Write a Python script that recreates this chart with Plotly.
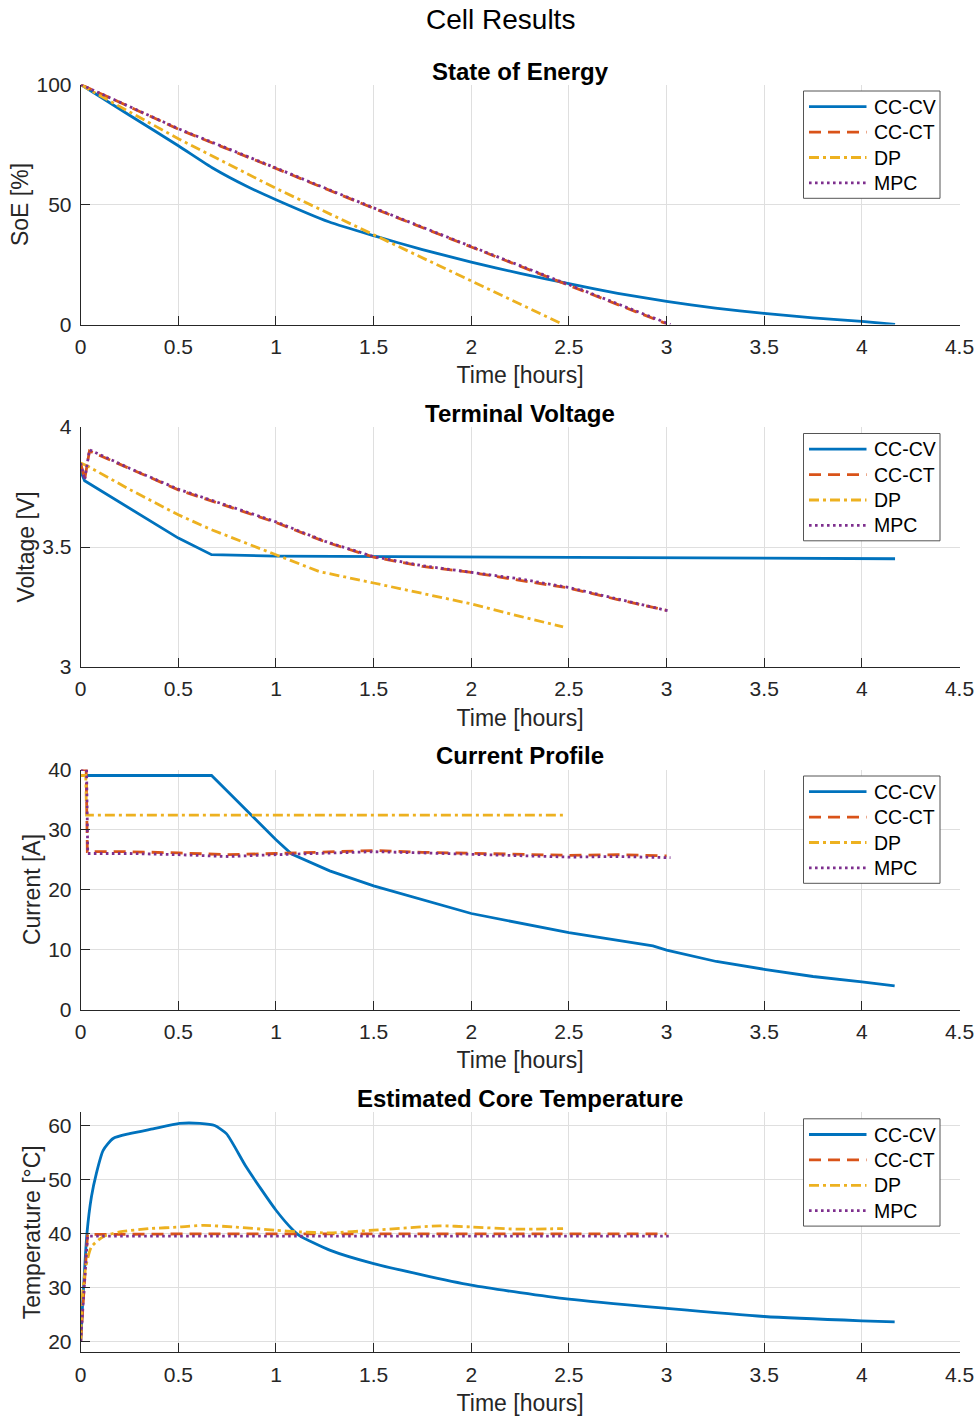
import plotly.graph_objects as go

# ---------------- data ----------------
SERIES = ["CC-CV", "CC-CT", "DP", "MPC"]
X_TICKS = [0, 0.5, 1, 1.5, 2, 2.5, 3, 3.5, 4, 4.5]
X_TICK_TEXT = ["0", "0.5", "1", "1.5", "2", "2.5", "3", "3.5", "4", "4.5"]

# State of Energy [%]
soe_t_cccv = [0, 0.25, 0.5, 0.68, 0.85, 1.0, 1.27, 1.5, 1.75, 2.0, 2.25, 2.5, 2.75, 3.0, 3.25, 3.5, 3.75, 4.0, 4.17]
soe_cccv = [100, 87.2, 74.5, 65.0, 57.6, 52.0, 42.8, 37.0, 31.2, 26.0, 21.3, 17.0, 13.0, 9.6, 6.8, 4.6, 2.8, 1.3, 0.0]
soe_t_ccct = [0, 0.5, 1.0, 1.5, 2.0, 2.5, 3.0]
soe_ccct = [100, 81.4, 65.0, 48.4, 32.3, 16.4, 0.3]
soe_t_dp = [0, 0.04, 0.5, 1.0, 1.5, 2.0, 2.47]
soe_dp = [100, 98.0, 77.4, 56.7, 37.4, 18.2, 0.0]
soe_t_mpc = [0, 0.5, 1.0, 1.5, 2.0, 2.5, 3.02]
soe_mpc = [100, 81.6, 65.2, 48.6, 32.5, 16.6, 0.0]

# Terminal Voltage [V]
v_t_cccv = [0, 0.02, 0.5, 0.67, 1.0, 1.5, 2.0, 2.5, 3.0, 3.5, 4.0, 4.17]
v_cccv = [3.815, 3.776, 3.537, 3.468, 3.462, 3.460, 3.459, 3.457, 3.455, 3.454, 3.452, 3.451]
v_t_ccct = [0, 0.02, 0.045, 0.25, 0.5, 0.75, 1.0, 1.25, 1.5, 1.75, 2.0, 2.25, 2.5, 2.75, 3.0]
v_ccct = [3.85, 3.78, 3.90, 3.826, 3.738, 3.670, 3.602, 3.522, 3.458, 3.419, 3.394, 3.361, 3.329, 3.281, 3.236]
v_t_dp = [0, 0.04, 0.25, 0.5, 0.67, 1.0, 1.12, 1.22, 1.5, 1.75, 2.0, 2.25, 2.47]
v_dp = [3.85, 3.835, 3.74, 3.634, 3.572, 3.468, 3.43, 3.398, 3.35, 3.308, 3.263, 3.211, 3.167]
v_t_mpc = [0, 0.02, 0.045, 0.25, 0.5, 0.75, 1.0, 1.25, 1.5, 1.75, 2.0, 2.25, 2.5, 2.75, 3.02]
v_mpc = [3.85, 3.78, 3.905, 3.828, 3.741, 3.673, 3.605, 3.524, 3.460, 3.422, 3.396, 3.367, 3.331, 3.284, 3.232]

# Current [A]
i_t_cccv = [0, 0.67, 0.75, 0.865, 1.0, 1.08, 1.275, 1.5, 2.0, 2.5, 2.657, 2.93, 3.0, 3.255, 3.5, 3.75, 4.0, 4.168]
i_cccv = [39, 39, 36.4, 32.6, 28.3, 25.9, 23.1, 20.6, 16.0, 12.8, 12.0, 10.6, 9.9, 8.0, 6.7, 5.5, 4.6, 3.95]
i_t_ccct = [0, 0.028, 0.034, 0.25, 0.5, 0.75, 1.0, 1.25, 1.5, 1.75, 2.0, 2.25, 2.5, 2.75, 3.0]
i_ccct = [40, 40, 26.3, 26.3, 26.1, 25.8, 26.0, 26.3, 26.5, 26.2, 26.0, 25.8, 25.7, 25.8, 25.6]
i_t_dp = [0, 0.026, 0.03, 2.47]
i_dp = [39, 39, 32.4, 32.4]
i_t_mpc = [0, 0.03, 0.036, 0.25, 0.5, 0.75, 1.0, 1.25, 1.5, 1.75, 2.0, 2.25, 2.5, 2.75, 3.02]
i_mpc = [40, 40, 26.0, 26.0, 25.8, 25.5, 25.8, 26.1, 26.3, 26.1, 25.9, 25.6, 25.4, 25.5, 25.3]

# Estimated Core Temperature [degC]
T_t_cccv = [0, 0.01, 0.032, 0.055, 0.08, 0.115, 0.166, 0.25, 0.37, 0.507, 0.61, 0.686, 0.746, 0.848, 1.0, 1.088,
            1.12, 1.275, 1.5, 2.0, 2.5, 3.0, 3.5, 4.0, 4.168]
T_cccv = [20, 27, 40, 46.8, 51.1, 55.4, 57.6, 58.5, 59.4, 60.4, 60.4, 60.0, 58.5, 52.3, 44.3, 40.6,
          39.6, 36.9, 34.4, 30.4, 27.8, 26.1, 24.6, 23.8, 23.6]
T_t_ccct = [0, 0.035, 0.5, 1.0, 1.5, 2.0, 2.5, 3.0]
T_ccct = [20, 39.8, 39.9, 39.9, 40.0, 39.9, 39.9, 39.9]
T_t_dp = [0, 0.01, 0.026, 0.055, 0.115, 0.2, 0.355, 0.51, 0.63, 0.78, 1.0, 1.12, 1.275, 1.5, 1.838, 2.0, 2.23, 2.47]
T_dp = [20, 28.9, 33.8, 37.5, 39.4, 40.3, 40.9, 41.2, 41.5, 41.2, 40.6, 40.3, 40.1, 40.6, 41.4, 41.2, 40.8, 40.9]
T_t_mpc = [0, 0.035, 0.5, 1.0, 1.5, 2.0, 2.5, 3.02]
T_mpc = [20, 39.5, 39.5, 39.5, 39.6, 39.5, 39.5, 39.5]

PANELS = [
    dict(title="State of Energy", ylabel="SoE [%]", yrange=[0, 100], yticks=[0, 50, 100],
         data=[(soe_t_cccv, soe_cccv), (soe_t_ccct, soe_ccct), (soe_t_dp, soe_dp), (soe_t_mpc, soe_mpc)],
         smooth=[True, False, False, False]),
    dict(title="Terminal Voltage", ylabel="Voltage [V]", yrange=[3, 4], yticks=[3, 3.5, 4],
         data=[(v_t_cccv, v_cccv), (v_t_ccct, v_ccct), (v_t_dp, v_dp), (v_t_mpc, v_mpc)],
         smooth=[False, False, False, False]),
    dict(title="Current Profile", ylabel="Current [A]", yrange=[0, 40], yticks=[0, 10, 20, 30, 40],
         data=[(i_t_cccv, i_cccv), (i_t_ccct, i_ccct), (i_t_dp, i_dp), (i_t_mpc, i_mpc)],
         smooth=[False, False, False, False]),
    dict(title="Estimated Core Temperature", ylabel="Temperature [°C]", yrange=[17.96, 62.46],
         yticks=[20, 30, 40, 50, 60],
         data=[(T_t_cccv, T_cccv), (T_t_ccct, T_ccct), (T_t_dp, T_dp), (T_t_mpc, T_mpc)],
         smooth=[True, False, True, False]),
]

# ---------------- styling ----------------
COLORS = ["#0072BD", "#D95319", "#EDB120", "#7E2F8E"]
DASHES = ["solid", "12px,7px", "10px,4px,3px,4px", "2.6px,3.4px"]
LW = 2.8
FONT = "Liberation Sans, Arial, Helvetica, sans-serif"
AX = "#262626"
GRID = "#dfdfdf"

W, H = 980, 1420
def px(x): return x / W
def py(y): return 1 - y / H

X0, X1 = 80.7, 959.5
TOPS = [84.5, 427.0, 769.5, 1112.3]
AH = 240.0

fig = go.Figure()
layout = dict(
    width=W, height=H, margin=dict(l=0, r=0, t=0, b=0, autoexpand=False),
    paper_bgcolor="white", plot_bgcolor="white", template="none",
    font=dict(family=FONT, color=AX), showlegend=False,
)
shapes, annotations = [], []

annotations.append(dict(text="Cell Results", x=px(500), y=py(20), xref="paper", yref="paper",
                        xanchor="center", yanchor="middle", showarrow=False,
                        font=dict(size=28, color="black", family=FONT)))

for k, p in enumerate(PANELS):
    n = "" if k == 0 else str(k + 1)
    top = TOPS[k]
    for j, (tt, vv) in enumerate(p["data"]):
        fig.add_trace(go.Scatter(x=tt, y=vv, mode="lines", name=SERIES[j],
                                 line=dict(color=COLORS[j], width=LW, dash=DASHES[j],
                                           shape="spline" if p["smooth"][j] else "linear",
                                           smoothing=0.6),
                                 xaxis="x" + n, yaxis="y" + n, hoverinfo="skip"))
    layout["xaxis" + n] = dict(
        domain=[px(X0), px(X1)], anchor="y" + n, range=[0, 4.5], automargin=False,
        tickvals=X_TICKS, ticktext=X_TICK_TEXT,
        showline=True, linecolor=AX, linewidth=1, ticks="inside", ticklen=9, tickwidth=1, tickcolor=AX,
        showgrid=True, gridcolor=GRID, gridwidth=1, zeroline=False,
        tickfont=dict(size=21, color=AX, family=FONT), ticklabelstandoff=3,
        title=dict(text="Time [hours]", font=dict(size=23, color=AX, family=FONT), standoff=10),
    )
    layout["yaxis" + n] = dict(
        domain=[py(top + AH), py(top)], anchor="x" + n, range=p["yrange"], automargin=False,
        tickvals=p["yticks"],
        showline=True, linecolor=AX, linewidth=1, ticks="inside", ticklen=9, tickwidth=1, tickcolor=AX,
        showgrid=True, gridcolor=GRID, gridwidth=1, zeroline=False,
        tickfont=dict(size=21, color=AX, family=FONT), ticklabelstandoff=4,
        title=dict(text=p["ylabel"], font=dict(size=23, color=AX, family=FONT), standoff=1),
    )
    annotations.append(dict(text="<b>%s</b>" % p["title"], x=px((X0 + X1) / 2), y=py(top - 13.5),
                            xref="paper", yref="paper", xanchor="center", yanchor="middle",
                            showarrow=False, font=dict(size=24, color="black", family=FONT)))
    # legend box
    shapes.append(dict(type="rect", xref="paper", yref="paper", x0=px(803.5), x1=px(940),
                       y0=py(top + 113.8), y1=py(top + 6.5), line=dict(color="#555555", width=1),
                       fillcolor="white", layer="above"))
    for j, name in enumerate(SERIES):
        yy = top + 22.2 + 25.4 * j
        shapes.append(dict(type="line", xref="paper", yref="paper", x0=px(809), x1=px(866.5),
                           y0=py(yy), y1=py(yy), layer="above",
                           line=dict(color=COLORS[j], width=LW, dash=DASHES[j])))
        annotations.append(dict(text=name, x=px(871.5), y=py(yy), xref="paper", yref="paper",
                                xanchor="left", yanchor="middle", showarrow=False,
                                font=dict(size=19.5, color="black", family=FONT)))

layout["shapes"] = shapes
layout["annotations"] = annotations
fig.update_layout(**layout)
fig.write_html("out.html", config={"displayModeBar": False},
               post_script="document.body.style.margin='0';document.body.style.overflow='hidden';")
